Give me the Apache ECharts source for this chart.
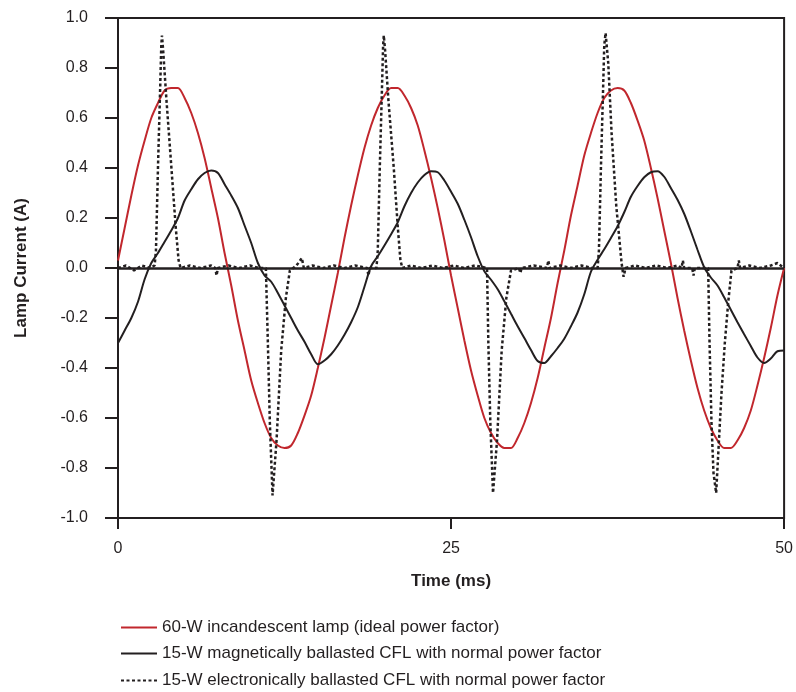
<!DOCTYPE html>
<html>
<head>
<meta charset="utf-8">
<script src="https://cdn.jsdelivr.net/npm/echarts@6/dist/echarts.min.js"></script>
<style>html,body{margin:0;padding:0;background:#fff;}#c{width:796px;height:692px;}</style>
</head>
<body>
<div id="c"></div>
<script>
// Time axis (ms) for the red and solid black traces
const timeMs = [0,0.5,1,1.5,2,2.5,3,3.5,4,4.5,5,5.5,6,6.5,7,7.5,8,8.5,9,9.5,10,10.5,11,11.5,12,12.5,13,13.5,14,14.5,15,15.5,16,16.5,17,17.5,18,18.5,19,19.5,20,20.5,21,21.5,22,22.5,23,23.5,24,24.5,25,25.5,26,26.5,27,27.5,28,28.5,29,29.5,30,30.5,31,31.5,32,32.5,33,33.5,34,34.5,35,35.5,36,36.5,37,37.5,38,38.5,39,39.5,40,40.5,41,41.5,42,42.5,43,43.5,44,44.5,45,45.5,46,46.5,47,47.5,48,48.5,49,49.5,50];

// 60-W incandescent lamp current (A)
const incandescent = [0.03,0.16,0.29,0.41,0.51,0.60,0.66,0.71,0.72,0.72,0.68,0.62,0.54,0.44,0.32,0.20,0.06,-0.07,-0.21,-0.33,-0.45,-0.54,-0.62,-0.68,-0.71,-0.72,-0.71,-0.66,-0.59,-0.51,-0.40,-0.28,-0.15,-0.02,0.12,0.25,0.37,0.48,0.57,0.64,0.69,0.72,0.72,0.69,0.64,0.57,0.47,0.36,0.24,0.11,-0.03,-0.16,-0.29,-0.41,-0.51,-0.60,-0.66,-0.70,-0.72,-0.72,-0.68,-0.62,-0.54,-0.44,-0.32,-0.20,-0.06,0.07,0.21,0.33,0.45,0.54,0.62,0.68,0.71,0.72,0.71,0.66,0.59,0.51,0.40,0.28,0.15,0.02,-0.12,-0.25,-0.37,-0.48,-0.57,-0.64,-0.69,-0.72,-0.72,-0.69,-0.64,-0.57,-0.47,-0.36,-0.24,-0.11,0.00];

// 15-W magnetically ballasted CFL current (A)
const magneticCfl = [-0.30,-0.25,-0.20,-0.135,-0.045,0.02,0.06,0.105,0.15,0.20,0.27,0.315,0.355,0.38,0.39,0.38,0.335,0.29,0.24,0.17,0.10,0.02,-0.03,-0.055,-0.10,-0.15,-0.20,-0.25,-0.295,-0.345,-0.385,-0.37,-0.345,-0.31,-0.267,-0.217,-0.157,-0.075,0.007,0.047,0.09,0.135,0.183,0.247,0.30,0.342,0.372,0.387,0.383,0.35,0.305,0.257,0.193,0.123,0.047,-0.013,-0.047,-0.085,-0.133,-0.183,-0.233,-0.28,-0.328,-0.372,-0.38,-0.353,-0.32,-0.283,-0.233,-0.178,-0.105,-0.015,0.033,0.075,0.12,0.167,0.223,0.285,0.328,0.363,0.383,0.387,0.365,0.32,0.273,0.217,0.147,0.073,0.003,-0.038,-0.07,-0.117,-0.167,-0.217,-0.265,-0.312,-0.358,-0.38,-0.362,-0.333,-0.33];

// 15-W electronically ballasted CFL current: [time ms, current A]
const electronicCfl = [[0,0],[0.6,0.01],[1.2,-0.01],[1.8,0.01],[2.4,0],[2.75,0.01],[2.85,0.07],[3.0,0.40],[3.15,0.69],[3.25,0.89],[3.3,0.93],[3.39,0.87],[3.64,0.67],[4.01,0.40],[4.33,0.165],[4.55,0.03],[4.7,0],[5.4,0.01],[6.2,0],[7.0,0.01],[7.3,0],[7.4,-0.03],[7.5,0],[8.3,0.01],[9.1,0],[9.9,0.01],[10.6,0],[11.1,0],[11.25,-0.30],[11.4,-0.62],[11.6,-0.91],[11.9,-0.69],[12.25,-0.33],[12.6,-0.12],[12.9,-0.01],[13.4,0.01],[13.8,0.04],[13.95,0],[14.6,0.01],[15.4,0],[16.2,0.01],[17.0,0],[17.8,0.01],[18.7,0],[18.8,-0.03],[18.9,0],[19.4,0],[19.5,0.07],[19.65,0.40],[19.8,0.69],[19.9,0.89],[19.95,0.93],[20.05,0.87],[20.3,0.67],[20.7,0.40],[21.0,0.165],[21.2,0.03],[21.35,0],[22.0,0.01],[22.8,0],[23.6,0.01],[24.4,0],[25.2,0.01],[26.0,0],[26.8,0.01],[27.7,0],[27.8,-0.30],[27.95,-0.62],[28.15,-0.90],[28.45,-0.69],[28.8,-0.33],[29.15,-0.12],[29.5,-0.01],[30.1,0],[30.2,-0.02],[30.3,0],[31.2,0.01],[32.2,0],[32.3,0.03],[32.4,0],[33.2,0.01],[34.0,0],[34.8,0.01],[35.6,0],[36.0,0],[36.1,0.07],[36.25,0.40],[36.4,0.69],[36.5,0.89],[36.6,0.94],[36.8,0.82],[37.05,0.54],[37.4,0.25],[37.8,0.02],[37.95,-0.035],[38.1,0],[38.8,0.01],[39.6,0],[40.4,0.01],[41.2,0],[42.0,0.01],[42.3,0],[42.4,0.03],[42.5,0],[43.1,0],[43.2,-0.03],[43.3,0],[44.3,0],[44.4,-0.29],[44.55,-0.62],[44.7,-0.82],[44.9,-0.90],[45.06,-0.74],[45.3,-0.50],[45.55,-0.30],[45.8,-0.14],[46.05,-0.01],[46.5,0],[46.6,0.03],[46.7,0],[47.4,0.01],[48.2,0],[49.0,0.01],[49.5,0.02],[50,0]];

const seriesNames = [
  '60-W incandescent lamp (ideal power factor)',
  '15-W magnetically ballasted CFL with normal power factor',
  '15-W electronically ballasted CFL with normal power factor'
];
const xTicks = [0, 25, 50];
const yMin = -1, yMax = 1, yStep = 0.2;

const ink = '#231f20';
const red = '#c1272d';
const font = '"Liberation Sans", Arial, sans-serif';
const legendTops = [614, 640, 667];

const legends = seriesNames.map((n, i) => ({
  orient: 'horizontal', left: 115, top: legendTops[i],
  itemWidth: 36, itemHeight: 12,
  data: [n],
  itemStyle: {opacity: 0},
  textStyle: {fontFamily: font, fontSize: 17, color: ink},
  selectedMode: false
}));

const chart = echarts.init(document.getElementById('c'), null, {renderer: 'canvas'});
chart.setOption({
  animation: false,
  backgroundColor: '#fff',
  grid: {left: 118, right: 10, top: 18, bottom: 174, show: true, borderColor: ink, borderWidth: 2, backgroundColor: 'transparent'},
  legend: legends,
  xAxis: {
    type: 'value', min: xTicks[0], max: xTicks[xTicks.length - 1], interval: 25,
    name: 'Time (ms)', nameLocation: 'middle', nameGap: 55,
    nameTextStyle: {fontFamily: font, fontSize: 17, fontWeight: 'bold', color: ink},
    axisLine: {show: true, onZero: false, lineStyle: {color: ink, width: 2}},
    axisTick: {show: true, length: 11, lineStyle: {color: ink, width: 2}},
    axisLabel: {fontFamily: font, fontSize: 16, color: ink, margin: 23},
    splitLine: {show: false}
  },
  yAxis: {
    type: 'value', min: yMin, max: yMax, interval: yStep,
    name: 'Lamp Current (A)', nameLocation: 'middle', nameGap: 88, nameRotate: 90,
    nameTextStyle: {fontFamily: font, fontSize: 17, fontWeight: 'bold', color: ink},
    axisLine: {show: true, onZero: false, lineStyle: {color: ink, width: 2}},
    axisTick: {show: true, length: 13, lineStyle: {color: ink, width: 2}},
    axisLabel: {fontFamily: font, fontSize: 16, color: ink, margin: 30, formatter: v => v.toFixed(1)},
    splitLine: {show: false}
  },
  series: [
    {
      name: seriesNames[0], type: 'line', showSymbol: false, symbol: 'none', smooth: 0.3,
      data: timeMs.map((t, i) => [t, incandescent[i]]),
      lineStyle: {color: red, width: 2}, itemStyle: {color: red}, z: 3
    },
    {
      name: seriesNames[1], type: 'line', showSymbol: false, symbol: 'none', smooth: 0.3,
      data: timeMs.map((t, i) => [t, magneticCfl[i]]),
      lineStyle: {color: ink, width: 2}, itemStyle: {color: ink}, z: 4
    },
    {
      name: seriesNames[2], type: 'line', showSymbol: false, symbol: 'none',
      data: electronicCfl,
      lineStyle: {color: ink, width: 2.5, type: [3, 2.5]}, itemStyle: {color: ink}, z: 5,
      markLine: {
        silent: true, symbol: 'none', label: {show: false},
        lineStyle: {color: ink, width: 2.5, type: 'solid'},
        data: [{yAxis: 0}]
      }
    }
  ]
});
</script>
</body>
</html>
